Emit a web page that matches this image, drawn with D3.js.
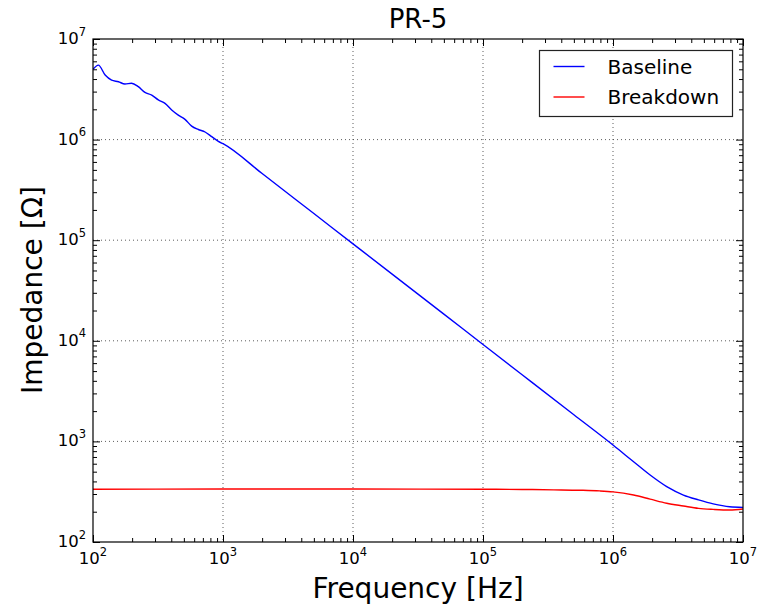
<!DOCTYPE html>
<html>
<head>
<meta charset="utf-8">
<script src="https://cdn.jsdelivr.net/npm/d3@7"></script>
<style>
  html, body { margin: 0; padding: 0; background: #ffffff; }
  #chart { width: 758px; height: 608px; }
  #chart svg { display: block; overflow: visible; }
  text { font-family: "DejaVu Sans", sans-serif; fill: #000; }
</style>
</head>
<body>
<div id="chart"></div>
<script>
const FREQ_BASELINE = [
  100, 110, 124, 139, 157, 176, 198, 223, 251, 283, 318, 358, 403, 453, 510,
  574, 646, 728, 819, 921, 1000, 2000, 5000, 1e4, 2e4, 5e4, 1e5, 2e5, 5e5,
  1e6, 1.44e6, 1.93e6, 2.59e6, 3.48e6, 4.55e6, 5.9e6, 7.9e6, 1e7,
];
const IMP_BASELINE = [
  5.0e6, 5.5e6, 4.38e6, 3.9e6, 3.76e6, 3.57e6, 3.63e6, 3.36e6, 2.95e6, 2.77e6,
  2.48e6, 2.29e6, 1.97e6, 1.75e6, 1.59e6, 1.36e6, 1.26e6, 1.19e6, 1.07e6,
  0.96e6, 0.91e6, 4.6e5, 1.84e5, 9.2e4, 4.6e4, 1.84e4, 9.2e3, 4.6e3, 1.84e3,
  920, 628, 463, 355, 293, 262, 239, 224, 221,
];

const FREQ_BREAKDOWN = [
  100, 1000, 1e4, 1e5, 2e5, 3.5e5, 5.57e5, 7.9e5, 1e6, 1.44e6, 1.93e6, 2.59e6,
  3.48e6, 4.55e6, 5.9e6, 7.9e6, 1e7,
];
const IMP_BREAKDOWN = [
  335, 336, 336, 335, 333, 330, 327, 322, 315, 293, 267, 243, 228, 216, 211, 208, 213,
];

const X_MAJOR = [1e2, 1e3, 1e4, 1e5, 1e6, 1e7];
const Y_MAJOR = [1e2, 1e3, 1e4, 1e5, 1e6, 1e7];
const EXPONENTS = ["2", "3", "4", "5", "6", "7"];

const SERIES = [
  { label: "Baseline", color: "#0000ff", freq: FREQ_BASELINE, values: IMP_BASELINE },
  { label: "Breakdown", color: "#ff0000", freq: FREQ_BREAKDOWN, values: IMP_BREAKDOWN },
];

function minorTicks(majors) {
  const out = [];
  majors.slice(0, -1).forEach((m) => {
    for (let k = 2; k <= 9; k++) out.push(m * k);
  });
  return out;
}

const width = 758;
const height = 608;
const margin = { top: 39, right: 15, bottom: 66, left: 93 };
const innerWidth = width - margin.left - margin.right;
const innerHeight = height - margin.top - margin.bottom;

const svg = d3
  .select("#chart")
  .append("svg")
  .attr("width", width)
  .attr("height", height)
  .attr("viewBox", `0 0 ${width} ${height}`);

const chart = svg
  .append("g")
  .attr("transform", `translate(${margin.left},${margin.top})`);

const x = d3.scaleLog().domain([1e2, 1e7]).range([0, innerWidth]);
const y = d3.scaleLog().domain([1e2, 1e7]).range([innerHeight, 0]);

// dotted grid at the decades
chart
  .append("g")
  .selectAll("line")
  .data(X_MAJOR.slice(1, -1))
  .join("line")
  .attr("x1", (d) => x(d))
  .attr("x2", (d) => x(d))
  .attr("y1", 0)
  .attr("y2", innerHeight)
  .attr("stroke", "#333")
  .attr("stroke-width", 0.8)
  .attr("stroke-dasharray", "1,3");

chart
  .append("g")
  .selectAll("line")
  .data(Y_MAJOR.slice(1, -1))
  .join("line")
  .attr("x1", 0)
  .attr("x2", innerWidth)
  .attr("y1", (d) => y(d))
  .attr("y2", (d) => y(d))
  .attr("stroke", "#333")
  .attr("stroke-width", 0.8)
  .attr("stroke-dasharray", "1,3");

// inward ticks on all four sides, labels drawn separately
const tickAxis = (axis, values, size, transform) => {
  const g = chart
    .append("g")
    .attr("transform", transform || null)
    .call(axis.tickValues(values).tickSize(-size));
  g.select(".domain").remove();
  g.selectAll(".tick text").remove();
  g.selectAll(".tick line").attr("stroke", "#000").attr("stroke-width", 1);
};

tickAxis(d3.axisBottom(x), X_MAJOR, 7, `translate(0,${innerHeight})`);
tickAxis(d3.axisBottom(x), minorTicks(X_MAJOR), 4, `translate(0,${innerHeight})`);
tickAxis(d3.axisTop(x), X_MAJOR, 7);
tickAxis(d3.axisTop(x), minorTicks(X_MAJOR), 4);
tickAxis(d3.axisLeft(y), Y_MAJOR, 7);
tickAxis(d3.axisLeft(y), minorTicks(Y_MAJOR), 4);
tickAxis(d3.axisRight(y), Y_MAJOR, 7, `translate(${innerWidth},0)`);
tickAxis(d3.axisRight(y), minorTicks(Y_MAJOR), 4, `translate(${innerWidth},0)`);

// tick labels as 10^n
const xLabels = chart
  .append("g")
  .selectAll("text")
  .data(X_MAJOR)
  .join("text")
  .attr("x", (d) => x(d))
  .attr("y", innerHeight + 22)
  .attr("text-anchor", "middle")
  .attr("font-size", 16.5);
xLabels.append("tspan").text("10");
xLabels
  .append("tspan")
  .attr("dy", -8)
  .attr("font-size", 11.5)
  .text((d, i) => EXPONENTS[i]);

const yLabels = chart
  .append("g")
  .selectAll("text")
  .data(Y_MAJOR)
  .join("text")
  .attr("x", -7)
  .attr("y", (d) => y(d) + 5)
  .attr("text-anchor", "end")
  .attr("font-size", 16.5);
yLabels.append("tspan").text("10");
yLabels
  .append("tspan")
  .attr("dy", -8.5)
  .attr("font-size", 11.5)
  .text((d, i) => EXPONENTS[i]);

// data lines
chart
  .append("clipPath")
  .attr("id", "plot-clip")
  .append("rect")
  .attr("width", innerWidth)
  .attr("height", innerHeight);

const line = d3
  .line()
  .x((d) => x(d.f))
  .y((d) => y(d.v))
  .curve(d3.curveMonotoneX);

SERIES.forEach((series) => {
  chart
    .append("path")
    .datum(series.freq.map((f, i) => ({ f, v: series.values[i] })))
    .attr("clip-path", "url(#plot-clip)")
    .attr("fill", "none")
    .attr("stroke", series.color)
    .attr("stroke-width", 1.4)
    .attr("d", line);
});

// frame
chart
  .append("rect")
  .attr("width", innerWidth)
  .attr("height", innerHeight)
  .attr("fill", "none")
  .attr("stroke", "#000")
  .attr("stroke-width", 1.2);

// legend
const legend = svg.append("g").attr("transform", "translate(539.5,50.5)");
legend
  .append("rect")
  .attr("width", 193)
  .attr("height", 66)
  .attr("fill", "#fff")
  .attr("stroke", "#222")
  .attr("stroke-width", 1.2);

SERIES.forEach((series, index) => {
  const row = legend
    .append("g")
    .attr("transform", `translate(0,${16 + index * 30.5})`);
  row
    .append("line")
    .attr("x1", 14)
    .attr("x2", 45)
    .attr("stroke", series.color)
    .attr("stroke-width", 1.4);
  row
    .append("text")
    .attr("x", 68)
    .attr("y", 7)
    .attr("font-size", 20)
    .text(series.label);
});

// titles
svg
  .append("text")
  .attr("x", margin.left + innerWidth / 2)
  .attr("y", 28)
  .attr("text-anchor", "middle")
  .attr("font-size", 26)
  .text("PR-5");

svg
  .append("text")
  .attr("x", margin.left + innerWidth / 2)
  .attr("y", 598)
  .attr("text-anchor", "middle")
  .attr("font-size", 28)
  .text("Frequency [Hz]");

svg
  .append("text")
  .attr("transform", "rotate(-90)")
  .attr("x", -290)
  .attr("y", 42)
  .attr("text-anchor", "middle")
  .attr("font-size", 28)
  .text("Impedance [Ω]");
</script>
</body>
</html>
